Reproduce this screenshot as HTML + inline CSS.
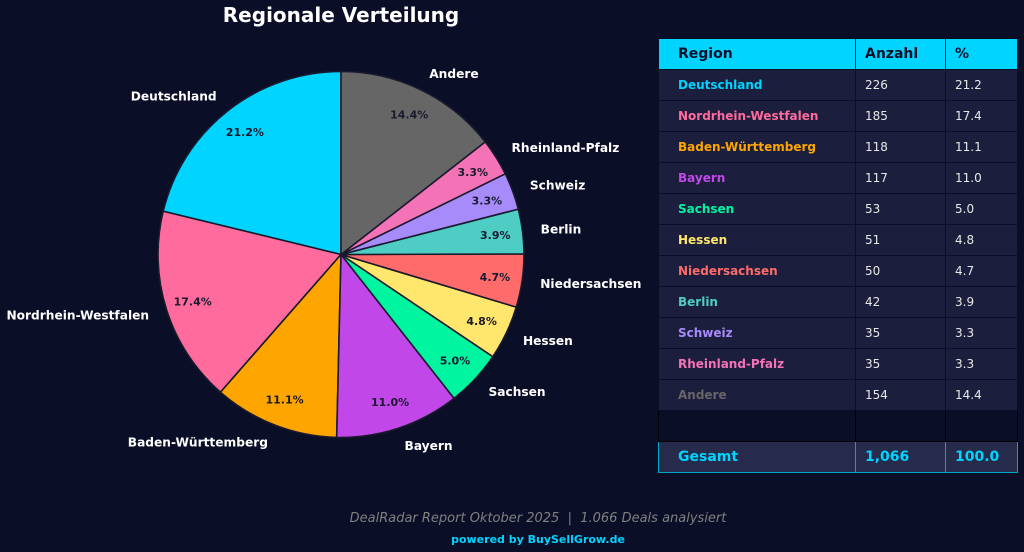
<!DOCTYPE html>
<html><head><meta charset="utf-8"><style>
body{margin:0;width:1024px;height:552px;background:#0a0e27;overflow:hidden;font-family:"DejaVu Sans","Liberation Sans",sans-serif;position:relative}
svg{position:absolute;left:0;top:0}
table{position:absolute;left:658px;top:38px;border-collapse:collapse;font-size:12px}
td{height:31px;border:1px solid #0a0e27;padding:0 0 0 19px;color:#e8e8e8;background:#1b1e3d;box-sizing:border-box}
td:nth-child(2),td:nth-child(3){padding-left:9px}
tr.h td{background:#00d4ff;color:#0a0e27;font-weight:bold;font-size:14px;border-color:#0a0e27}
td.r{font-weight:bold}
tr.e td{background:#0a0e27;border-color:#000}
tr.g td{background:#262a4b;border:1px solid #00a8c8;color:#00d4ff;font-weight:bold;font-size:14px}
.f1{position:absolute;top:511px;left:26px;width:1024px;text-align:center;color:#808080;font-style:italic;font-size:13px}
.f2{position:absolute;top:533px;left:26px;width:1024px;text-align:center;color:#00d4ff;font-weight:bold;font-size:11px}
</style></head><body>
<svg width="1024" height="552" id="s"><text x="341" y="22" fill="#fff" font-size="20" font-weight="bold" text-anchor="middle" font-family="DejaVu Sans">Regionale Verteilung</text></svg>
<table>
<colgroup><col style="width:197px"><col style="width:90px"><col style="width:72px"></colgroup>
<tr class="h"><td>Region</td><td>Anzahl</td><td>%</td></tr>
<tr><td class="r" style="color:#00d4ff">Deutschland</td><td>226</td><td>21.2</td></tr>
<tr><td class="r" style="color:#ff6b9d">Nordrhein-Westfalen</td><td>185</td><td>17.4</td></tr>
<tr><td class="r" style="color:#ffa500">Baden-Württemberg</td><td>118</td><td>11.1</td></tr>
<tr><td class="r" style="color:#c147e9">Bayern</td><td>117</td><td>11.0</td></tr>
<tr><td class="r" style="color:#00f5a0">Sachsen</td><td>53</td><td>5.0</td></tr>
<tr><td class="r" style="color:#ffe66d">Hessen</td><td>51</td><td>4.8</td></tr>
<tr><td class="r" style="color:#ff6b6b">Niedersachsen</td><td>50</td><td>4.7</td></tr>
<tr><td class="r" style="color:#4ecdc4">Berlin</td><td>42</td><td>3.9</td></tr>
<tr><td class="r" style="color:#a78bfa">Schweiz</td><td>35</td><td>3.3</td></tr>
<tr><td class="r" style="color:#f472b6">Rheinland-Pfalz</td><td>35</td><td>3.3</td></tr>
<tr><td class="r" style="color:#666">Andere</td><td>154</td><td>14.4</td></tr>
<tr class="e"><td></td><td></td><td></td></tr>
<tr class="g"><td>Gesamt</td><td>1,066</td><td>100.0</td></tr>
</table>
<div class="f1">DealRadar Report Oktober 2025 &nbsp;|&nbsp; 1.066 Deals analysiert</div>
<div class="f2">powered by BuySellGrow.de</div>
<script>
var d=[["Deutschland",226,"#00d4ff"],["Nordrhein-Westfalen",185,"#ff6b9d"],["Baden-Württemberg",118,"#ffa500"],["Bayern",117,"#c147e9"],["Sachsen",53,"#00f5a0"],["Hessen",51,"#ffe66d"],["Niedersachsen",50,"#ff6b6b"],["Berlin",42,"#4ecdc4"],["Schweiz",35,"#a78bfa"],["Rheinland-Pfalz",35,"#f472b6"],["Andere",154,"#666666"]];
var cx=341,cy=254.5,R=183,tot=1066,a=90,s=document.getElementById('s'),h='';
d.forEach(function(e){var sw=e[1]/tot*360,a2=a+sw,r1=a*Math.PI/180,r2=a2*Math.PI/180,m=(a+sw/2)*Math.PI/180;
var x1=cx+R*Math.cos(r1),y1=cy-R*Math.sin(r1),x2=cx+R*Math.cos(r2),y2=cy-R*Math.sin(r2);
h+='<path d="M'+cx+','+cy+'L'+x1+','+y1+'A'+R+','+R+' 0 '+(sw>180?1:0)+' 0 '+x2+','+y2+'Z" fill="'+e[2]+'" stroke="#1a1a2e" stroke-width="1.6"/>';
var lx=cx+1.1*R*Math.cos(m),ly=cy-1.1*R*Math.sin(m);
h+='<text x="'+lx+'" y="'+(ly+4.5)+'" fill="#fff" font-size="12.2" font-weight="bold" font-family="DejaVu Sans" text-anchor="'+(Math.cos(m)<0?'end':'start')+'">'+e[0]+'</text>';
var px=cx+0.85*R*Math.cos(m),py=cy-0.85*R*Math.sin(m);
h+='<text x="'+px+'" y="'+(py+4)+'" fill="#1a1a2e" font-size="11" font-weight="bold" font-family="DejaVu Sans" text-anchor="middle">'+(e[1]/tot*100).toFixed(1)+'%</text>';
a=a2;});
s.insertAdjacentHTML('beforeend',h);
</script>
</body></html>
